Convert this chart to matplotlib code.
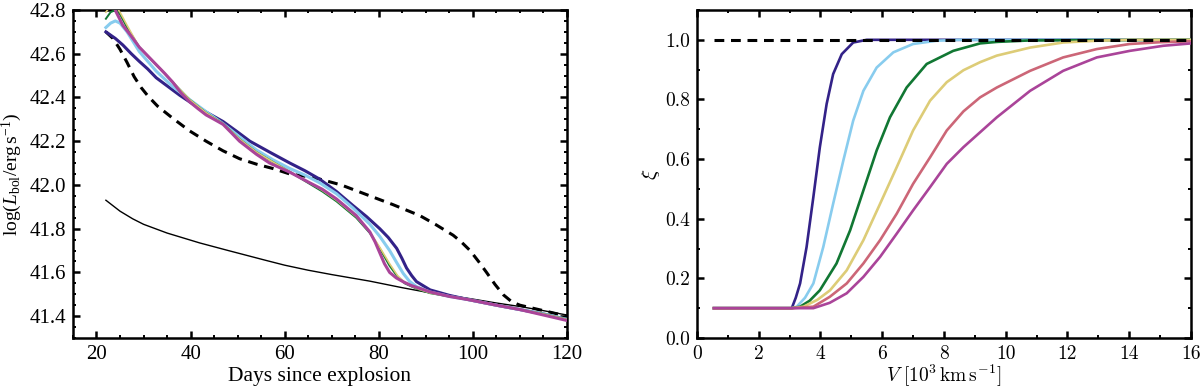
import matplotlib
matplotlib.use("Agg")
import matplotlib.pyplot as plt
from matplotlib.ticker import MultipleLocator, FormatStrFormatter

plt.rcParams['font.family'] = ['Liberation Serif', 'DejaVu Serif']
plt.rcParams['mathtext.fontset'] = 'custom'
plt.rcParams['mathtext.rm'] = 'Liberation Serif'
plt.rcParams['mathtext.it'] = 'Liberation Serif:italic'

# Tol muted colours
C_NAVY = '#332288'
C_LBLUE = '#88CCEE'
C_GREEN = '#117733'
C_YELLOW = '#DDCC77'
C_PINK = '#CC6677'
C_MAG = '#AA4499'

# ---------------- Left panel data (days, log L) ----------------
navy_d = [22.0, 24.0, 25.6, 27.4, 29.1, 30.9, 32.7, 35.2, 37.7, 39.8, 41.9, 44.4, 46.9, 49.8, 52.6,
          56.8, 61.1, 64.3, 67.4, 71.0, 74.5, 77.4, 80.2, 82.0, 83.8, 84.9, 85.9, 87.0, 88.0, 90.9,
          95.0, 99.4, 105, 110, 115, 120]
navy_L = [42.70, 42.67, 42.64, 42.60, 42.565, 42.53, 42.49, 42.45, 42.41, 42.38, 42.35, 42.32, 42.29,
          42.245, 42.20, 42.15, 42.10, 42.065, 42.027, 41.97, 41.906, 41.855, 41.80, 41.76, 41.71,
          41.665, 41.62, 41.585, 41.558, 41.52, 41.495, 41.474, 41.45, 41.43, 41.41, 41.385]

lblue_d = [22.0, 23.0, 24.0, 25.0, 26.5, 29.1, 32.7, 36.2, 39.8, 43.3, 46.9, 50.4, 54.0, 57.5, 61.1,
           64.3, 67.4, 71.0, 74.5, 78.1, 80.2, 82.3, 83.8, 85.2, 86.5, 88.0, 90.9, 95.0, 99.4, 105,
           110, 115, 120]
lblue_L = [42.72, 42.74, 42.75, 42.74, 42.70, 42.61, 42.52, 42.45, 42.39, 42.335, 42.28, 42.22, 42.16,
           42.115, 42.075, 42.045, 42.01, 41.96, 41.895, 41.82, 41.765, 41.70, 41.645, 41.595, 41.56,
           41.535, 41.51, 41.49, 41.474, 41.45, 41.43, 41.41, 41.385]

green_d = [22.0, 23.0, 24.0, 25.0, 26.5, 29.1, 32.7, 36.2, 39.8, 43.3, 46.9, 50.4, 54.0, 57.5, 61.1,
           65.3, 68.0, 71.0, 75.2, 78.1, 80.2, 82.3, 84.0, 85.5, 87.0, 88.7, 90.9, 95.0, 99.4, 105,
           110, 115, 120]
green_L = [42.76, 42.79, 42.80, 42.78, 42.72, 42.63, 42.55, 42.47, 42.39, 42.33, 42.28, 42.21, 42.15,
           42.105, 42.06, 42.005, 41.97, 41.925, 41.85, 41.78, 41.71, 41.63, 41.58, 41.55, 41.535,
           41.52, 41.505, 41.49, 41.474, 41.45, 41.43, 41.41, 41.385]

yellow_d = [22.0, 23.0, 24.0, 25.0, 26.5, 29.1, 32.7, 36.2, 39.8, 43.3, 46.9, 50.4, 54.0, 57.5, 61.1,
            65.3, 68.0, 71.0, 75.2, 78.1, 80.2, 82.3, 84.0, 85.5, 87.0, 88.7, 90.9, 95.0, 99.4, 105,
            110, 115, 120]
yellow_L = [42.79, 42.82, 42.82, 42.79, 42.73, 42.63, 42.55, 42.47, 42.39, 42.33, 42.28, 42.21, 42.15,
            42.105, 42.06, 42.01, 41.975, 41.93, 41.855, 41.785, 41.715, 41.64, 41.585, 41.555, 41.537,
            41.522, 41.506, 41.49, 41.474, 41.45, 41.43, 41.41, 41.385]

mag_d = [22.3, 23.3, 24.2, 25.6, 27.4, 29.1, 30.9, 32.7, 34.5, 36.2, 38.0, 39.8, 41.5, 43.3, 45.0,
         46.9, 48.6, 50.4, 52.2, 54.0, 56.8, 61.1, 65.3, 68.0, 71.0, 73.0, 75.2, 78.1, 79.2, 80.2,
         81.2, 82.3, 83.7, 85.2, 86.9, 88.7, 91.0, 95.0, 99.4, 105, 110, 115, 120]
mag_L = [42.88, 42.84, 42.79, 42.73, 42.68, 42.63, 42.59, 42.55, 42.51, 42.47, 42.42, 42.38, 42.35,
         42.32, 42.30, 42.277, 42.24, 42.20, 42.17, 42.14, 42.10, 42.058, 42.01, 41.98, 41.936, 41.90,
         41.86, 41.785, 41.74, 41.69, 41.64, 41.60, 41.575, 41.557, 41.54, 41.527, 41.51, 41.49,
         41.474, 41.45, 41.43, 41.405, 41.38]

black_d = [22, 25, 27.7, 30, 35, 41.9, 48, 56, 60, 65, 70, 78.1, 85, 90, 99.4, 105, 110, 115, 120]
black_L = [41.93, 41.88, 41.845, 41.82, 41.78, 41.735, 41.70, 41.655, 41.633, 41.61, 41.59, 41.56,
           41.53, 41.51, 41.48, 41.46, 41.444, 41.425, 41.405]

dash_d = [22, 23.5, 25.0, 26.5, 28.0, 29.5, 31.0, 33.0, 36.2, 39.8, 43.3, 46.9, 50.4, 54, 57.5, 61.1,
          64.3, 67.4, 72.0, 78.1, 83.0, 88.7, 92.0, 95.8, 97.5, 99.4, 101.2, 102.9, 104.7, 106.5,
          108.3, 110, 113, 116, 120]
dash_L = [42.70, 42.67, 42.62, 42.56, 42.495, 42.445, 42.405, 42.36, 42.305, 42.247, 42.20, 42.156,
          42.12, 42.095, 42.075, 42.05, 42.04, 42.027, 42.0, 41.95, 41.91, 41.86, 41.82, 41.77, 41.74,
          41.70, 41.65, 41.60, 41.545, 41.497, 41.465, 41.45, 41.435, 41.42, 41.40]

# ---------------- Right panel data (V [1e3 km/s], xi) ----------------
navy_V = [0.55, 3.07, 3.2, 3.34, 3.55, 3.77, 3.98, 4.20, 4.41, 4.69, 5.06, 5.5, 16.0]
navy_x = [0.1, 0.1, 0.135, 0.183, 0.305, 0.473, 0.64, 0.785, 0.885, 0.952, 0.991, 1.0, 1.0]

lblue_V = [0.55, 3.07, 3.23, 3.5, 3.77, 4.09, 4.41, 4.74, 5.06, 5.39, 5.82, 6.36, 7.0, 7.76, 8.5, 16]
lblue_x = [0.1, 0.1, 0.105, 0.135, 0.183, 0.305, 0.45, 0.595, 0.729, 0.829, 0.907, 0.958, 0.986,
           0.997, 1.0, 1.0]

green_V = [0.55, 3.07, 3.34, 3.65, 3.98, 4.52, 4.96, 5.39, 5.82, 6.25, 6.79, 7.44, 8.30, 9.17, 9.71,
           10.8, 16]
green_x = [0.1, 0.1, 0.105, 0.125, 0.16, 0.25, 0.361, 0.495, 0.629, 0.74, 0.84, 0.919, 0.963, 0.988,
           0.993, 0.998, 1.0]

yellow_V = [0.55, 3.07, 3.45, 3.9, 4.31, 4.85, 5.39, 5.93, 6.47, 7.0, 7.55, 8.09, 8.63, 9.17, 9.71,
            10.79, 11.86, 12.95, 14, 16]
yellow_x = [0.1, 0.1, 0.105, 0.128, 0.16, 0.227, 0.328, 0.45, 0.573, 0.696, 0.796, 0.858, 0.898,
            0.925, 0.947, 0.974, 0.991, 0.997, 1.0, 1.0]

pink_V = [0.55, 3.07, 3.77, 4.3, 4.85, 5.39, 5.93, 6.47, 7.0, 7.55, 8.09, 8.63, 9.17, 9.71, 10.79,
          11.86, 12.95, 14.02, 15.0, 16]
pink_x = [0.1, 0.1, 0.105, 0.138, 0.183, 0.25, 0.328, 0.417, 0.517, 0.606, 0.696, 0.76, 0.807, 0.84,
          0.896, 0.941, 0.969, 0.986, 0.992, 0.995]

mag_V = [0.55, 3.07, 3.77, 4.3, 4.85, 5.39, 5.93, 6.47, 7.0, 7.55, 8.09, 8.63, 9.17, 9.71, 10.79,
         11.86, 12.95, 14.02, 15.1, 16]
mag_x = [0.1, 0.1, 0.1, 0.118, 0.15, 0.205, 0.272, 0.35, 0.428, 0.506, 0.584, 0.64, 0.69, 0.74,
         0.829, 0.896, 0.941, 0.963, 0.98, 0.988]

dashR_V = [0.55, 16.0]
dashR_x = [1.0, 1.0]

# ---------------- Figure ----------------
fig = plt.figure(figsize=(12, 3.89), dpi=100)
axL = fig.add_axes([0.0608, 0.1311, 0.4117, 0.8432])
axR = fig.add_axes([0.5808, 0.1311, 0.4117, 0.8432])

thick = 2.2
dash_style = (0, (3.2, 2.2))

axL.plot(black_d, black_L, color='black', lw=1.0, zorder=2)
axL.plot(dash_d, dash_L, color='black', lw=2.2, linestyle=dash_style, zorder=3)
axL.plot(navy_d, navy_L, color=C_NAVY, lw=thick, zorder=4)
axL.plot(lblue_d, lblue_L, color=C_LBLUE, lw=thick, zorder=5)
axL.plot(green_d, green_L, color=C_GREEN, lw=1.4, zorder=6)
axL.plot(yellow_d, yellow_L, color=C_YELLOW, lw=1.2, zorder=6)
axL.plot(mag_d, mag_L, color=C_MAG, lw=thick, zorder=7)

axL.set_xlim(15, 120)
axL.set_ylim(41.3, 42.8)
axL.xaxis.set_major_locator(MultipleLocator(20))
axL.xaxis.set_minor_locator(MultipleLocator(5))
axL.yaxis.set_major_locator(MultipleLocator(0.2))
axL.yaxis.set_minor_locator(MultipleLocator(0.05))
axL.yaxis.set_major_formatter(FormatStrFormatter('%.1f'))
axL.set_xlabel('Days since explosion', fontsize=15.5, labelpad=2)
axL.set_ylabel(r'$\mathrm{log}(L_{\mathrm{bol}}/\mathrm{erg\,s^{-1}})$', fontsize=14, labelpad=4)

axR.plot(navy_V, navy_x, color=C_NAVY, lw=1.9, zorder=3)
axR.plot(lblue_V, lblue_x, color=C_LBLUE, lw=1.9, zorder=3)
axR.plot(green_V, green_x, color=C_GREEN, lw=1.9, zorder=3)
axR.plot(yellow_V, yellow_x, color=C_YELLOW, lw=1.9, zorder=3)
axR.plot(pink_V, pink_x, color=C_PINK, lw=1.9, zorder=3)
axR.plot(mag_V, mag_x, color=C_MAG, lw=1.9, zorder=4)
axR.plot(dashR_V, dashR_x, color='black', lw=2.2, linestyle=dash_style, zorder=5)

axR.set_xlim(0, 16)
axR.set_ylim(0, 1.1)
axR.xaxis.set_major_locator(MultipleLocator(2))
axR.xaxis.set_minor_locator(MultipleLocator(1))
axR.yaxis.set_major_locator(MultipleLocator(0.2))
axR.yaxis.set_minor_locator(MultipleLocator(0.1))
axR.yaxis.set_major_formatter(FormatStrFormatter('%.1f'))
xl = axR.set_xlabel(r'$V\ [10^3\,\mathrm{km\,s^{-1}}]$', fontsize=14, labelpad=0)
xl.set_math_fontfamily('cm')
yl = axR.set_ylabel(r'$\xi$', fontsize=15, labelpad=2)
yl.set_math_fontfamily('cm')

for ax in (axL, axR):
    for s in ax.spines.values():
        s.set_linewidth(1.8)
    ax.tick_params(which='both', direction='in', top=True, right=True)
    ax.tick_params(which='major', length=5, width=1.8, labelsize=15, pad=5)
    ax.tick_params(which='minor', length=2.5, width=1.4)

for lab in axR.get_xticklabels() + axR.get_yticklabels():
    lab.set_family('cmr10')
    lab.set_fontsize(14)

fig.savefig('out.png', dpi=100)
